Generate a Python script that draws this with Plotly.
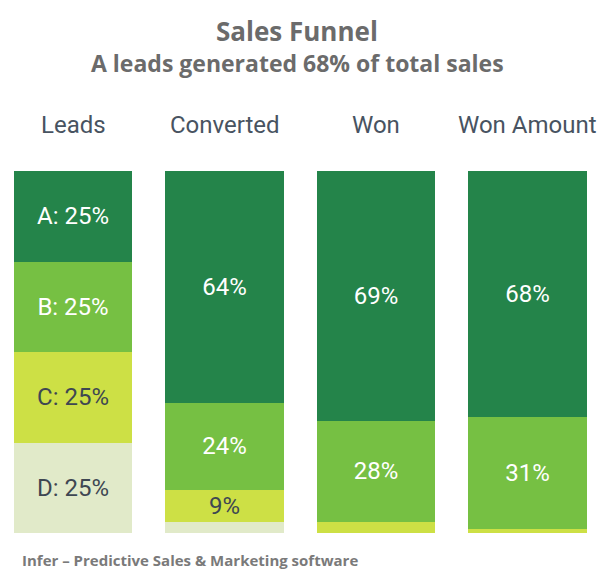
import plotly.graph_objects as go

stages = ["Leads", "Converted", "Won", "Won Amount"]
seg_names = ["A", "B", "C", "D"]
seg_a = [25, 64, 69, 68]
seg_b = [25, 24, 28, 31]
seg_c = [25, 9, 3, 1]
seg_d = [25, 3, 0, 0]
labels_a = ["A: 25%", "64%", "69%", "68%"]
labels_b = ["B: 25%", "24%", "28%", "31%"]
labels_c = ["C: 25%", "9%", "", ""]
labels_d = ["D: 25%", "", "", ""]

colors = ["#24844A", "#76C043", "#CDE045", "#E1EAC9"]
text_colors = ["#FFFFFF", "#FFFFFF", "#3E4752", "#3E4752"]

W, H = 616, 577
T, B = 171, 44

fig = go.Figure()
for name, vals, labs, col, tcol in zip(seg_names, [seg_a, seg_b, seg_c, seg_d],
                                       [labels_a, labels_b, labels_c, labels_d],
                                       colors, text_colors):
    fig.add_trace(go.Bar(
        x=stages, y=vals, name=name, text=labs,
        marker=dict(color=col, line=dict(width=0)),
        width=0.78,
        textposition="inside", insidetextanchor="middle", textangle=0,
        constraintext="none",
        textfont=dict(family="Roboto", size=24, color=tcol),
        hoverinfo="skip",
    ))

def py(pix):
    return (H - B - pix) / (H - T - B)

ann = []
ann.append(dict(text="<b>Sales Funnel</b>", x=297 / W, y=py(31), xref="paper", yref="paper",
                showarrow=False, xanchor="center", yanchor="middle",
                font=dict(family="Open Sans", size=26, color="#6B6B6B")))
ann.append(dict(text="<b>A leads generated 68% of total sales</b>", x=297 / W, y=py(63),
                xref="paper", yref="paper", showarrow=False, xanchor="center", yanchor="middle",
                font=dict(family="Open Sans", size=23, color="#6B6B6B")))
for s in stages:
    ann.append(dict(text=s, x=s, y=py(125), xref="x", yref="paper", showarrow=False,
                    xanchor="center", yanchor="middle",
                    font=dict(family="Roboto", size=24, color="#485361")))
ann.append(dict(text="<b>Infer – Predictive Sales & Marketing software</b>", x=20 / W, y=py(560),
                xref="paper", yref="paper", showarrow=False, xanchor="left", yanchor="middle",
                font=dict(family="Open Sans", size=15, color="#7A7A7A")))

fig.update_layout(
    width=W, height=H, barmode="stack", bargap=0.22,
    margin=dict(l=0, r=0, t=T, b=B, pad=0),
    paper_bgcolor="white", plot_bgcolor="white",
    showlegend=False, annotations=ann,
    xaxis=dict(range=[-0.482, 3.584], showticklabels=False, showgrid=False, zeroline=False,
               showline=False, fixedrange=True),
    yaxis=dict(range=[100, 0], showticklabels=False, showgrid=False, zeroline=False,
               showline=False, fixedrange=True),
)

fig.write_html("out.html")
